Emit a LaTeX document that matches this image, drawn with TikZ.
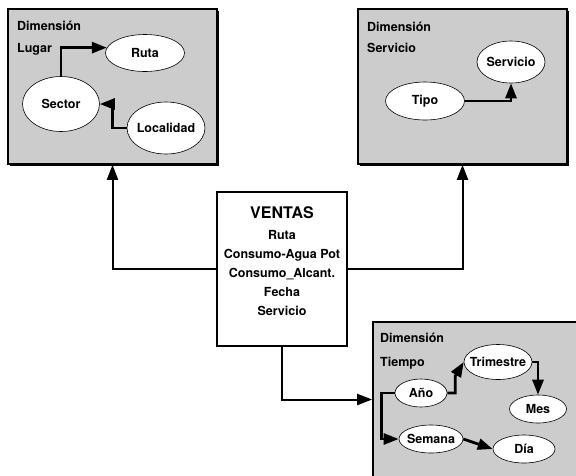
\documentclass[tikz,border=0pt]{standalone}
\usepackage{fontspec}
\setmainfont{TeX Gyre Heros}
\usetikzlibrary{arrows.meta,shapes.geometric,shadows}
\definecolor{fondo}{HTML}{CCCCCC}
\newcommand{\etiq}[1]{\makebox[0pt]{#1}}

\begin{document}
\begin{tikzpicture}[
    x=1pt, y=-1pt,
    every node/.style={font=\fontsize{12.5}{22}\selectfont\bfseries},
    caja/.style={rectangle, draw, fill=fondo, line width=1.6pt, inner sep=0pt,
        minimum width=209pt, minimum height=155pt,
        drop shadow={shadow xshift=2.2pt, shadow yshift=-2.2pt, fill=black, opacity=1}},
    titulo/.style={anchor=base west, inner sep=0pt},
    elem/.style={ellipse, draw, fill=white, line width=0.6pt, inner sep=0pt},
    rel/.style={-{Triangle[length=15pt,width=11pt]}, line width=2.8pt},
    enlace/.style={-{Triangle[length=15pt,width=11pt]}, line width=2pt}
]
\clip (0,0) rectangle (576,475);

% dimensiones
\node[caja] (lugar) at (112.5,86.5) {};
\node[caja] (servicio) at (462.5,86.5) {};
\node[caja] (tiempo) at (477.5,399.5) {};

\node[titulo] (lugar-a) at (17,30.5) {Dimensión};
\node[titulo] (lugar-b) at (17,52.5) {Lugar};
\node[titulo] (serv-a) at (367,31.5) {Dimensión};
\node[titulo] (serv-b) at (367,52.5) {Servicio};
\node[titulo] (tiempo-a) at (380,342.5) {Dimensión};
\node[titulo] (tiempo-b) at (380,366.5) {Tiempo};

% hechos
\node[rectangle, draw, fill=white, line width=2.2pt,
    minimum width=130pt, minimum height=154pt] (ventas) at (282,269) {};
\node[anchor=base, inner sep=0pt, font=\fontsize{16}{20}\selectfont\bfseries]
    (ventas-t) at (282,218.75) {VENTAS};
\foreach \campo [count=\i] in {Ruta, Consumo-Agua Pot, Consumo\_Alcant., Fecha, Servicio}
    \node[anchor=base, inner sep=0pt] (campo\i) at (282,220.5+19*\i) {\campo};

% niveles
\node[elem, minimum width=79pt, minimum height=37pt] (ruta) at (145,53) {\etiq{Ruta}};
\node[elem, minimum width=77pt, minimum height=55pt] (sector) at (61,104) {\etiq{Sector}};
\node[elem, minimum width=78pt, minimum height=52pt] (localidad) at (166,128) {\etiq{Localidad}};

\node[elem, minimum width=68pt, minimum height=42pt] (serv) at (511,62) {\etiq{Servicio}};
\node[elem, minimum width=79pt, minimum height=38pt] (tipo) at (425,101) {\etiq{Tipo}};

\node[elem, minimum width=68pt, minimum height=35pt] (trimestre) at (498,362) {\etiq{Trimestre}};
\node[elem, minimum width=52pt, minimum height=28pt] (ano) at (421,393) {\etiq{Año}};
\node[elem, minimum width=57pt, minimum height=28pt] (mes) at (538,409) {\etiq{Mes}};
\node[elem, minimum width=64pt, minimum height=28pt] (semana) at (431,439) {\etiq{Semana}};
\node[elem, minimum width=62pt, minimum height=28pt] (dia) at (524,449) {\etiq{Día}};

\draw[rel] (sector.north) |- (ruta.172);
\draw[rel] (localidad.west) -- ++(-14,0) |- (sector.east);
\draw[rel] (tipo.east) -| (serv.south);
\draw[rel] (ano.east) -- ++(8,0) -- ++(0,-17) -- (trimestre.west);
\draw[rel] (trimestre.east) -| (mes.north);
\draw[rel] (ano.west) -- ++(-13,0) |- (semana.west);
\draw[rel] (semana.east) -- (dia.west);

\draw[enlace] (ventas.west) -| (lugar.south);
\draw[enlace] (ventas.east) -| (servicio.south);
\draw[enlace] (ventas.south) |- (tiempo.west);
\end{tikzpicture}
\end{document}
